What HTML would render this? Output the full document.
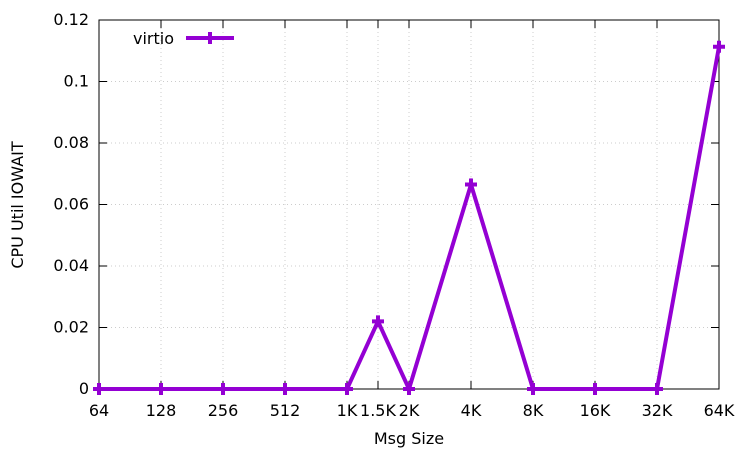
<!DOCTYPE html>
<html><head><meta charset="utf-8"><style>
body{margin:0;background:#fff;}
svg{display:block;font-family:"DejaVu Sans","Liberation Sans",sans-serif;}
</style></head><body>
<svg id="chart" width="750" height="450">
<g id="grid"></g>
<g id="axes"></g>
<g id="series"></g>
<text x="409" y="444" text-anchor="middle" font-size="16">Msg Size</text>
<text transform="translate(23,205) rotate(-90)" text-anchor="middle" font-size="16">CPU Util IOWAIT</text>
<g>
<text x="174" y="44" text-anchor="end" font-size="16">virtio</text>
<line x1="186" y1="38" x2="234" y2="38" stroke="#9400d3" stroke-width="4"/>
<path d="M204,38h12M210,32v12" stroke="#9400d3" stroke-width="4"/>
</g>
</svg>
<script>
const categories=["64","128","256","512","1K","1.5K","2K","4K","8K","16K","32K","64K"];
const positions=[0,1,2,3,4,4.5,5,6,7,8,9,10];
const values=[0,0,0,0,0,0.022,0,0.0665,0,0,0,0.1113];
const yTicks=[0,0.02,0.04,0.06,0.08,0.1,0.12];
const yTickLabels=["0","0.02","0.04","0.06","0.08","0.1","0.12"];
const NS="http://www.w3.org/2000/svg";
const L=99,R=719,T=20,B=389;
const xs=p=>L+(R-L)*p/10;
const ys=v=>B-(B-T)*v/0.12;
const grid=document.getElementById('grid'),axes=document.getElementById('axes'),ser=document.getElementById('series');
function mk(tag,attrs,parent){const e=document.createElementNS(NS,tag);for(const k in attrs)e.setAttribute(k,attrs[k]);parent.appendChild(e);return e;}
yTicks.forEach((t,i)=>{
  const y=ys(t);
  if(i>0&&i<yTicks.length-1){const g=mk('line',{x1:L,x2:R,y1:y,y2:y,stroke:'#ccc','stroke-dasharray':'1,3'},grid);
  
  }
  const tk=mk('path',{d:`M${L},${y}h8M${R},${y}h-8`,stroke:'#000'},axes);
  
  
  const tx=mk('text',{x:L-10,y:y+5,'text-anchor':'end','font-size':16},axes);
  tx.textContent=yTickLabels[i];
  
  
});
categories.forEach((c,i)=>{
  const x=xs(positions[i]);
  if(i>0&&i<categories.length-1){const g=mk('line',{x1:x,x2:x,y1:T,y2:B,stroke:'#ccc','stroke-dasharray':'1,3'},grid);
  
  }
  const tk=mk('path',{d:`M${x},${B}v-8M${x},${T}v8`,stroke:'#000'},axes);
  
  
  const tx=mk('text',{x:x,y:B+27,'text-anchor':'middle','font-size':16},axes);
  tx.textContent=c;
  
  
});
const fr=mk('rect',{x:L,y:T,width:R-L,height:B-T,fill:'none',stroke:'#000'},axes);


const pts=values.map((v,i)=>[xs(positions[i]),ys(v)]);
const ln=mk('polyline',{points:pts.map(p=>p.join(',')).join(' '),fill:'none',stroke:'#9400d3','stroke-width':4,'stroke-linejoin':'miter'},ser);


pts.forEach(p=>{
  const m=mk('path',{d:`M${p[0]-6},${p[1]}h12M${p[0]},${p[1]-6}v12`,stroke:'#9400d3','stroke-width':4},ser);
  
  
});
</script>
</body></html>
